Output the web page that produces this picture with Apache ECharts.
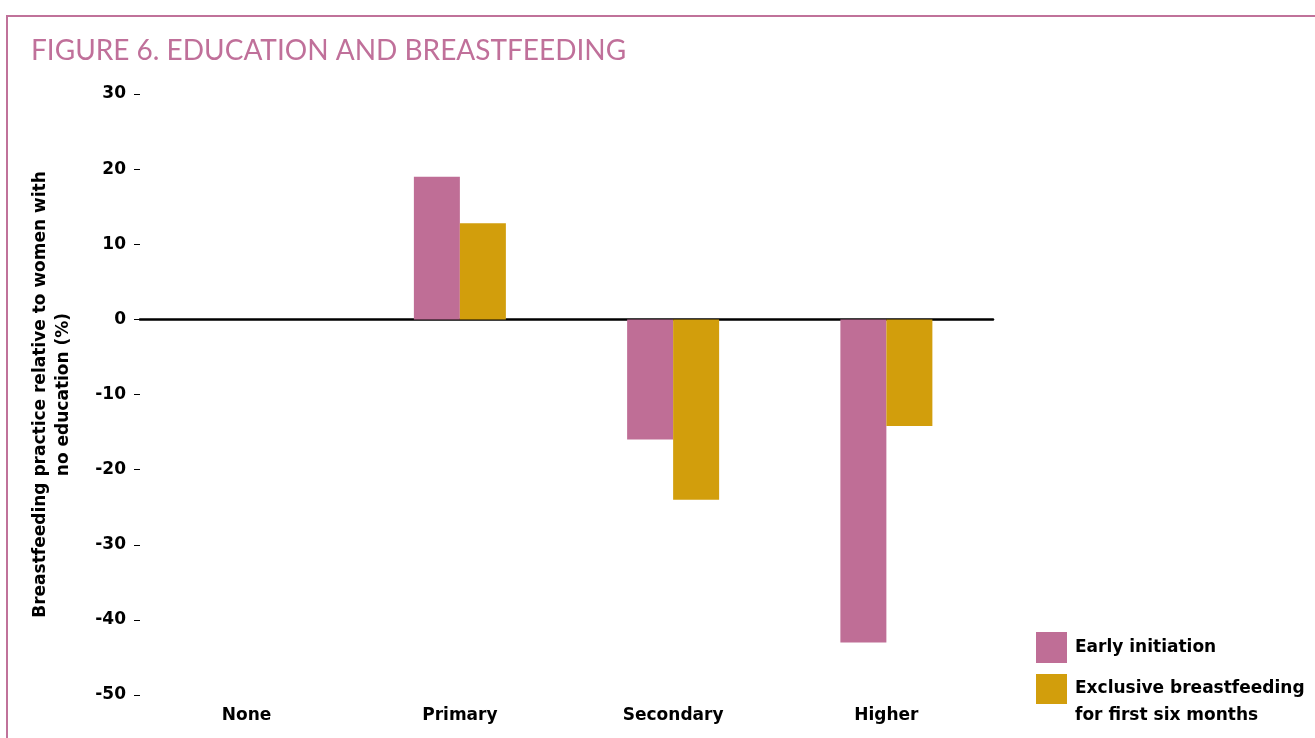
<!DOCTYPE html>
<html>
<head>
<meta charset="utf-8">
<script src="https://cdn.jsdelivr.net/npm/echarts@6/dist/echarts.min.js"></script>
<style>
  html, body { margin: 0; padding: 0; background: #fff; }
  #frame {
    position: absolute; left: 6px; top: 15px; right: -10px; bottom: -10px;
    border-top: 2px solid #c0729a; border-left: 2px solid #c0729a;
  }
  #chart { position: absolute; left: 0; top: 0; width: 1315px; height: 738px; }
</style>
</head>
<body>
<div id="frame"></div>
<div id="chart"></div>
<script>
// education levels along the x axis
var categories = ['None', 'Primary', 'Secondary', 'Higher'];
// difference vs. women with no education (%)
var earlyInitiation = [0, 19, -16, -43];
var exclusiveBF = [0, 12.8, -24, -14.2];
var seriesNames = ['Early initiation', 'Exclusive breastfeeding\nfor first six months'];

var chartDom = document.getElementById('chart');
var myChart = echarts.init(chartDom);
var boldFam = '"DejaVu Sans", sans-serif';
var titleFam = 'Lato, "DejaVu Sans", sans-serif';

var option = {
  animation: false,
  title: {
    text: 'FIGURE 6. EDUCATION AND BREASTFEEDING',
    left: 31,
    top: 37,
    padding: 0,
    textStyle: {
      color: '#c0709a',
      fontFamily: titleFam,
      fontWeight: 'normal',
      fontSize: 28
    }
  },
  legend: [{
    orient: 'vertical',
    left: 1036,
    top: 632,
    padding: 0,
    itemWidth: 31,
    itemHeight: 31,
    icon: 'rect',
    selectedMode: false,
    data: [seriesNames[0]],
    textStyle: {
      color: '#000', fontFamily: boldFam, fontWeight: 'bold', fontSize: 17,
      padding: [0, 0, 0, 3]
    }
  }, {
    // taller item so the two-line label starts level with the swatch
    orient: 'vertical',
    left: 1036,
    top: 674,
    padding: 0,
    itemWidth: 31,
    itemHeight: 57,
    icon: 'path://M0,0H31V30H0ZM0,57L0,57',
    selectedMode: false,
    data: [seriesNames[1]],
    textStyle: {
      color: '#000', fontFamily: boldFam, fontWeight: 'bold', fontSize: 17,
      lineHeight: 27,
      padding: [0, 0, 0, 3]
    }
  }],
  grid: {
    left: 140,
    right: 322,
    top: 94,
    bottom: 43
  },
  xAxis: {
    type: 'category',
    data: categories,
    axisLine: {
      lineStyle: { color: '#000', width: 2.5 }
    },
    axisTick: { show: false },
    axisLabel: {
      interval: 0,
      color: '#000',
      fontFamily: boldFam,
      fontWeight: 'bold',
      fontSize: 17,
      margin: 12
    }
  },
  yAxis: {
    type: 'value',
    min: -50,
    max: 30,
    interval: 10,
    name: 'Breastfeeding practice relative to women with\nno education (%)',
    nameLocation: 'middle',
    nameGap: 65,
    nameTextStyle: {
      color: '#000',
      fontFamily: boldFam,
      fontWeight: 'bold',
      fontSize: 17,
      lineHeight: 23
    },
    axisLine: { show: false },
    axisTick: {
      show: true,
      length: 6,
      lineStyle: { color: '#000', width: 1 }
    },
    splitLine: { show: false },
    axisLabel: {
      color: '#000',
      fontFamily: boldFam,
      fontWeight: 'bold',
      fontSize: 17,
      margin: 14
    }
  },
  series: [{
    name: seriesNames[0],
    type: 'bar',
    barWidth: 46,
    barGap: '0%',
    itemStyle: { color: '#bf6e96' },
    data: earlyInitiation
  }, {
    name: seriesNames[1],
    type: 'bar',
    barWidth: 46,
    barGap: '0%',
    itemStyle: { color: '#d29e0c' },
    data: exclusiveBF
  }]
};
myChart.setOption(option);
</script>
</body>
</html>
